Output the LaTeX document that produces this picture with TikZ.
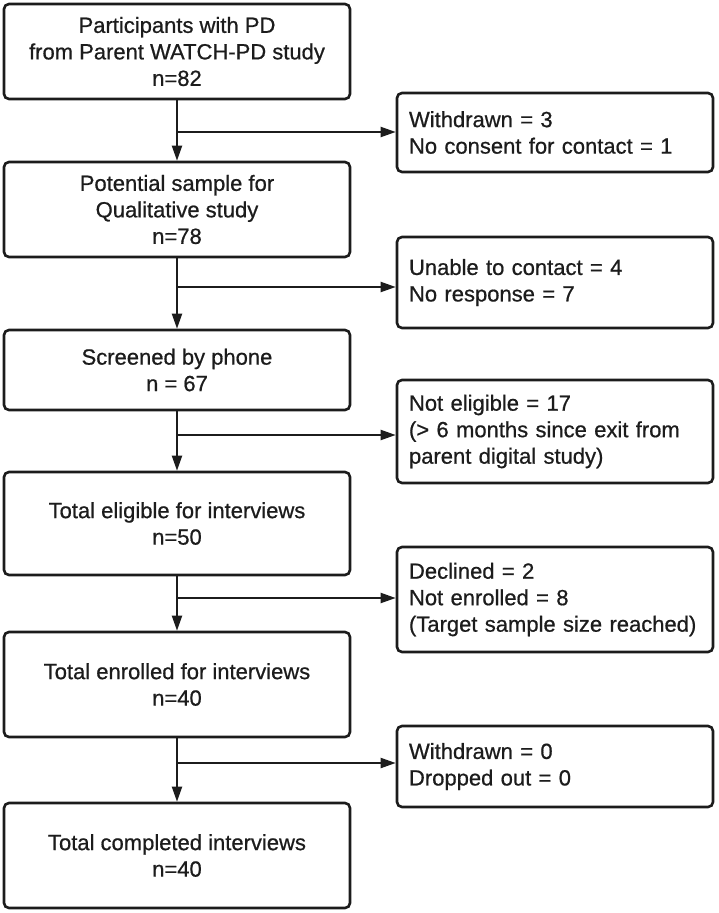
\documentclass[tikz,border=0pt]{standalone}
\usepackage{fontspec}
\setmainfont{Liberation Sans}
\newfontfamily\flowfont{Liberation Sans}[FakeBold=0.7]
\usetikzlibrary{arrows.meta}
\definecolor{ink}{RGB}{28,28,28}

\begin{document}
\begin{tikzpicture}[x=1pt,y=-1pt,
    font=\flowfont\fontsize{22}{26.5}\selectfont,
    mainbox/.style={draw=ink,text=ink,line width=2.6pt,rounded corners=5pt,
      minimum width=346pt,align=center},
    sidebox/.style={draw=ink,text=ink,line width=2.6pt,rounded corners=5pt,
      text width=292pt,inner xsep=12pt,align=left},
    flow/.style={draw=ink,line width=2pt,-{Triangle[length=15pt,width=10pt]}}]
  \useasboundingbox (0,0) rectangle (718,913);
  % main column
  \foreach \n/\y/\h/\txt in {
    1/51.5/95/{Participants with PD\\from Parent WATCH-PD study\\n=82},
    2/209.5/95/{Potential sample for\\Qualitative study\\n=78},
    3/370/80/{Screened by phone\\n = 67},
    4/523.5/103/{Total eligible for interviews\\n=50},
    5/684.5/105/{Total enrolled for interviews\\n=40},
    6/855.5/105/{Total completed interviews\\n=40}}{
    \node[mainbox,minimum height=\h] (m\n) at (177,\y) {\txt};
  }
  % exclusions
  \foreach \n/\y/\h/\txt in {
    1/132.5/79/{Withdrawn = 3\\No consent for contact = 1},
    2/282.5/91/{Unable to contact = 4\\No response = 7},
    3/431.5/103/{Not eligible = 17\\(> 6 months since exit from\\parent digital study)},
    4/599.5/105/{Declined = 2\\Not enrolled = 8\\(Target sample size reached)},
    5/766.5/81/{Withdrawn = 0\\Dropped out = 0}}{
    \node[sidebox,minimum height=\h] (s\n) at (555,\y) {\txt};
  }
  % connectors
  \foreach \i/\j/\y in {1/2/132, 2/3/287, 3/4/435, 4/5/598, 5/6/763}{
    \draw[flow] (m\i.south) -- (m\j.north);
    \coordinate (b\i) at (m\i.south |- 0,\y);
    \draw[flow] (b\i) -- (b\i -| s\i.west);
  }
\end{tikzpicture}
\end{document}
